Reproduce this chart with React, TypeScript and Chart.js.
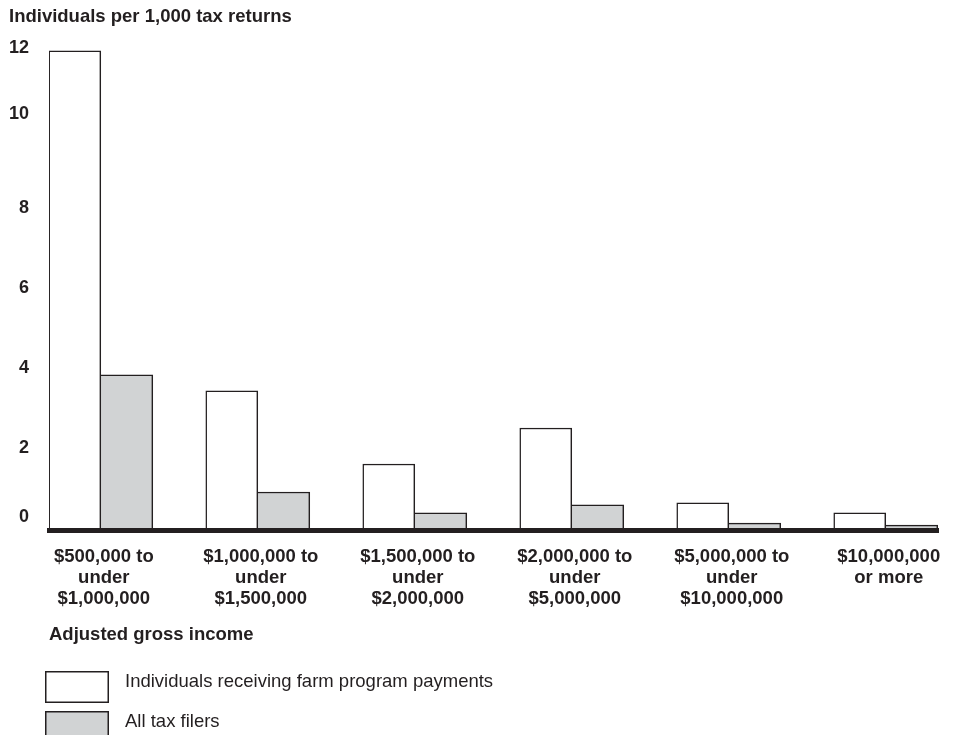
import { useEffect, useRef } from 'react';
import { Chart, registerables } from 'chart.js';

Chart.register(...registerables);

// ---- data -------------------------------------------------------------
const categories: string[][] = [
  ['$500,000 to', 'under', '$1,000,000'],
  ['$1,000,000 to', 'under', '$1,500,000'],
  ['$1,500,000 to', 'under', '$2,000,000'],
  ['$2,000,000 to', 'under', '$5,000,000'],
  ['$5,000,000 to', 'under', '$10,000,000'],
  ['$10,000,000', 'or more'],
];
const farmRecipients = [11.93, 3.43, 1.6, 2.5, 0.63, 0.38];
const allFilers = [3.83, 0.9, 0.38, 0.58, 0.12, 0.07];
const yTicks = [0, 2, 4, 6, 8, 10, 12];
const seriesLabels = ['Individuals receiving farm program payments', 'All tax filers'];
const yTitle = 'Individuals per 1,000 tax returns';
const xTitle = 'Adjusted gross income';

// ---- styles -----------------------------------------------------------
const INK = '#231f20';
const GRAY = '#d1d3d4';
const FONT = '"Liberation Sans", Arial, Helvetica, sans-serif';
const TEXT_SIZE = 18.5;

// Legend stacked below the axis title, drawn from the datasets themselves
const stackedLegend = {
  id: 'stackedLegend',
  afterDraw(chart: any) {
    const { ctx, chartArea } = chart;
    const xScale = chart.scales.x;
    const left = chartArea.left - 4;
    chart.data.datasets.forEach((ds: any, i: number) => {
      const top = xScale.bottom + 27 + i * 40;
      ctx.save();
      ctx.fillStyle = ds.backgroundColor;
      ctx.fillRect(left, top, 64, 32);
      ctx.strokeStyle = ds.borderColor;
      ctx.lineWidth = 1.5;
      ctx.strokeRect(left + 0.75, top + 0.75, 62.5, 30.5);
      ctx.fillStyle = INK;
      ctx.font = `${TEXT_SIZE}px ${FONT}`;
      ctx.textBaseline = 'middle';
      ctx.textAlign = 'left';
      ctx.fillText(ds.label, left + 80, top + 11);
      ctx.restore();
    });
  },
};

export default function App() {
  const ref = useRef<HTMLCanvasElement>(null);

  useEffect(() => {
    const canvas = ref.current;
    if (!canvas) return;
    const chart = new Chart(canvas, {
      type: 'bar',
      data: {
        datasets: [
          {
            label: seriesLabels[0],
            data: farmRecipients.map((v, i) => ({ x: i, y: v })),
            backgroundColor: '#ffffff',
            borderColor: INK,
            borderWidth: { top: 1.5, left: 1.5, right: 1.5, bottom: 0 },
            borderSkipped: false,
            barThickness: 52,
          },
          {
            label: seriesLabels[1],
            data: allFilers.map((v, i) => ({ x: i, y: v })),
            backgroundColor: GRAY,
            borderColor: INK,
            borderWidth: { top: 1.5, left: 0, right: 1.5, bottom: 0 },
            borderSkipped: false,
            barThickness: 52,
          },
        ],
      },
      options: {
        responsive: false,
        animation: false,
        events: [],
        layout: { padding: { left: 1, right: 14, top: 0, bottom: 91 } },
        plugins: {
          legend: { display: false },
          tooltip: { enabled: false },
          title: {
            display: true,
            text: yTitle,
            align: 'start',
            color: INK,
            font: { family: FONT, size: TEXT_SIZE, weight: 'bold', lineHeight: '18px' },
            padding: { top: 0, bottom: 22 },
          },
        },
        scales: {
          x: {
            type: 'linear',
            min: -0.33,
            max: 5.335,
            offset: false,
            grid: { display: false, drawTicks: false },
            border: { display: true, width: 5, color: INK },
            afterBuildTicks: (axis: any) => {
              axis.ticks = categories.map((_, i) => ({ value: i }));
            },
            ticks: {
              autoSkip: false,
              maxRotation: 0,
              minRotation: 0,
              padding: 16,
              labelOffset: 3,
              color: INK,
              font: { family: FONT, size: TEXT_SIZE, weight: 'bold', lineHeight: '21px' },
              callback: (v: any) => categories[Math.round(Number(v))],
            },
            title: {
              display: true,
              text: xTitle,
              align: 'start',
              color: INK,
              font: { family: FONT, size: TEXT_SIZE, weight: 'bold', lineHeight: '18px' },
              padding: { top: 0.5, bottom: 0 },
            },
          },
          y: {
            type: 'linear',
            min: -0.0625,
            max: 12,
            grid: { display: false, drawTicks: false },
            border: { display: false },
            afterBuildTicks: (axis: any) => {
              axis.ticks = yTicks.map((v) => ({ value: v }));
            },
            afterFit: (axis: any) => {
              axis.width = 40;
            },
            ticks: {
              padding: 20,
              color: INK,
              // the source prints its "10" and "0" labels a little above their gridline
              font: (ctx: any) => ({
                family: FONT,
                size: 18,
                weight: 'bold',
                lineHeight:
                  ctx.tick && ctx.tick.value === 10 ? '27px' : ctx.tick && ctx.tick.value === 0 ? '22px' : 1.2,
              }),
              callback: (v: any) => (v === 10 || v === 0 ? [String(v), ''] : String(v)),
            },
          },
        },
      },
      plugins: [stackedLegend],
    } as any);
    return () => chart.destroy();
  }, []);

  return <canvas ref={ref} width={946} height={727} style={{ display: 'block' }} />;
}
